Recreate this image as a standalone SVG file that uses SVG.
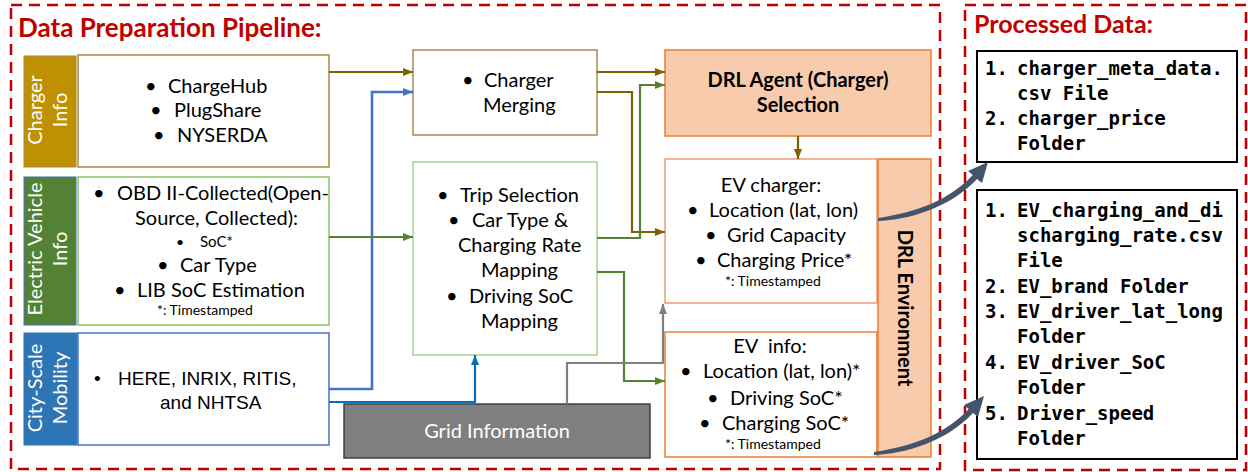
<svg xmlns="http://www.w3.org/2000/svg" width="1248" height="472" viewBox="0 0 1248 472">
<style>
.t{font-family:Lato,"Liberation Sans",sans-serif;font-size:20px;fill:#000}
.a{font-family:"Liberation Sans",Arial,sans-serif;font-size:19px;fill:#000}
.s{font-size:14px}
.w{fill:#fff}
.b{font-weight:bold}
.m{font-family:"DejaVu Sans Mono","Liberation Mono",monospace;font-size:19px;font-weight:bold;fill:#000}
.ttl{font-family:Lato,"Liberation Sans",sans-serif;font-size:26px;font-weight:bold;fill:#C00000}
.dash{fill:none;stroke:#C00000;stroke-width:2.5;stroke-dasharray:11 7}
.c{fill:none;stroke-width:2.2}
.br{stroke:#7F6000}
.gr{stroke:#548235}
.bl{stroke:#4472C4;stroke-width:2.6}
.bl2{stroke:#0070C0}
.gy{stroke:#808080}
.org{fill:#F8CBAD;stroke:#ED7D31;stroke-width:1.5}
</style>
<defs>
<marker id="mBr" viewBox="0 0 10 8" refX="10" refY="4" markerWidth="10" markerHeight="8" markerUnits="userSpaceOnUse" orient="auto"><path d="M0,0 L10,4 L0,8 z" fill="#7F6000"/></marker>
<marker id="mGr" viewBox="0 0 10 8" refX="10" refY="4" markerWidth="10" markerHeight="8" markerUnits="userSpaceOnUse" orient="auto"><path d="M0,0 L10,4 L0,8 z" fill="#548235"/></marker>
<marker id="mBl" viewBox="0 0 10 8" refX="10" refY="4" markerWidth="10" markerHeight="8" markerUnits="userSpaceOnUse" orient="auto"><path d="M0,0 L10,4 L0,8 z" fill="#4472C4"/></marker>
<marker id="mBl2" viewBox="0 0 10 8" refX="10" refY="4" markerWidth="10" markerHeight="8" markerUnits="userSpaceOnUse" orient="auto"><path d="M0,0 L10,4 L0,8 z" fill="#0070C0"/></marker>
<marker id="mGy" viewBox="0 0 10 8" refX="10" refY="4" markerWidth="10" markerHeight="8" markerUnits="userSpaceOnUse" orient="auto"><path d="M0,0 L10,4 L0,8 z" fill="#808080"/></marker>
<path id="curvArrow" d="M878,218 C905,214 945,205 972.7,175 L968,171 L988,162 L982,183 L977,179 C950,208 908,220 878,221 Z" fill="#44546A"/>
</defs>
<rect width="1248" height="472" fill="#fff"/>

<g id="frames">
<rect class="dash" x="11" y="5" width="929" height="464"/>
<rect class="dash" x="965" y="5" width="281" height="465"/>
<text class="ttl" x="18" y="37">Data Preparation Pipeline:</text>
<text class="ttl" x="974" y="33" style="font-size:25px">Processed Data:</text>
</g>

<g id="charger-info">
<rect x="24" y="56" width="52" height="111" fill="#BF9000" stroke="#A88A3F" stroke-width="1"/>
<g transform="translate(50,110) rotate(-90)"><text class="t w" text-anchor="middle" y="-8">Charger</text><text class="t w" text-anchor="middle" y="17">Info</text></g>
<rect x="78" y="55" width="251" height="112" fill="#fff" stroke="#A88A3F" stroke-width="1.5"/>
<text class="t"><tspan x="145" y="93">•</tspan><tspan x="168" y="93">ChargeHub</tspan></text>
<text class="t"><tspan x="150" y="117">•</tspan><tspan x="174" y="117">PlugShare</tspan></text>
<text class="t"><tspan x="153" y="142">•</tspan><tspan x="177" y="142">NYSERDA</tspan></text>
</g>

<g id="ev-info-source">
<rect x="24" y="177" width="52" height="148" fill="#548235" stroke="#4472C4" stroke-width="1"/>
<g transform="translate(50,249) rotate(-90)"><text class="t w" text-anchor="middle" y="-8">Electric Vehicle</text><text class="t w" text-anchor="middle" y="17">Info</text></g>
<rect x="78" y="177" width="251" height="148" fill="#fff" stroke="#8FC46A" stroke-width="1.5"/>
<text class="t"><tspan x="93" y="200">•</tspan><tspan x="117" y="200">OBD II-Collected(Open-</tspan></text>
<text class="t" x="135" y="225">Source, Collected):</text>
<text class="t"><tspan x="176" y="247" class="s">•</tspan><tspan x="200" y="247" style="font-size:15px">SoC*</tspan></text>
<text class="t"><tspan x="157" y="272">•</tspan><tspan x="180" y="272">Car Type</tspan></text>
<text class="t"><tspan x="114" y="297">•</tspan><tspan x="137" y="297">LIB SoC Estimation</tspan></text>
<text class="t s" x="157" y="315">*: Timestamped</text>
</g>

<g id="city-mobility">
<rect x="24" y="333" width="53" height="112" fill="#2E75B6" stroke="#2E75B6" stroke-width="1"/>
<g transform="translate(50,388) rotate(-90)"><text class="t w" text-anchor="middle" y="-8">City-Scale</text><text class="t w" text-anchor="middle" y="17">Mobility</text></g>
<rect x="78" y="333" width="251" height="112" fill="#fff" stroke="#4472C4" stroke-width="1.5"/>
<text class="a"><tspan x="94" y="385">•</tspan><tspan x="118" y="385">HERE, INRIX, RITIS,</tspan></text>
<text class="a" x="160" y="409">and NHTSA</text>
</g>

<g id="charger-merging">
<rect x="413" y="50" width="184" height="85" fill="#fff" stroke="#A88A50" stroke-width="1.5"/>
<text class="t"><tspan x="462" y="87">•</tspan><tspan x="484" y="87">Charger</tspan></text>
<text class="t" x="483" y="112">Merging</text>
</g>

<g id="trip-selection">
<rect x="413" y="162" width="184" height="193" fill="#fff" stroke="#A9D18E" stroke-width="1.5"/>
<text class="t"><tspan x="437" y="202">•</tspan><tspan x="460" y="202">Trip Selection</tspan></text>
<text class="t"><tspan x="448" y="227">•</tspan><tspan x="472" y="227">Car Type &amp;</tspan></text>
<text class="t" x="458" y="252">Charging Rate</text>
<text class="t" x="481" y="277">Mapping</text>
<text class="t"><tspan x="446" y="303">•</tspan><tspan x="469" y="303">Driving SoC</tspan></text>
<text class="t" x="481" y="328">Mapping</text>
</g>

<g id="grid-information">
<rect x="344" y="404" width="306" height="54" fill="#7F7F7F" stroke="#404040" stroke-width="1.5"/>
<text class="t w" x="497" y="438" text-anchor="middle">Grid Information</text>
</g>

<g id="drl-agent">
<rect class="org" x="665" y="50" width="266" height="86"/>
<text class="t b" x="798" y="87" text-anchor="middle">DRL Agent (Charger)</text>
<text class="t b" x="798" y="112" text-anchor="middle">Selection</text>
</g>

<g id="ev-charger">
<rect x="665" y="159" width="212" height="144" fill="#fff" stroke="#EE9A74" stroke-width="1.5"/>
<text class="t" x="771" y="192" text-anchor="middle">EV charger:</text>
<text class="t"><tspan x="687" y="217">•</tspan><tspan x="709" y="217">Location (lat, lon)</tspan></text>
<text class="t"><tspan x="705" y="242">•</tspan><tspan x="727" y="242">Grid Capacity</tspan></text>
<text class="t"><tspan x="695" y="267">•</tspan><tspan x="717" y="267">Charging Price*</tspan></text>
<text class="t s" x="725" y="286">*: Timestamped</text>
</g>

<g id="ev-info">
<rect x="665" y="332" width="212" height="125" fill="#fff" stroke="#ED7D31" stroke-width="1.5"/>
<text class="t" x="770" y="353" text-anchor="middle" xml:space="preserve">EV  info:</text>
<text class="t"><tspan x="680" y="378">•</tspan><tspan x="703" y="378">Location (lat, lon)*</tspan></text>
<text class="t"><tspan x="707" y="405">•</tspan><tspan x="730" y="405">Driving SoC*</tspan></text>
<text class="t"><tspan x="699" y="430">•</tspan><tspan x="722" y="430">Charging SoC*</tspan></text>
<text class="t s" x="725" y="449">*: Timestamped</text>
</g>

<g id="drl-environment">
<rect class="org" x="878" y="159" width="53" height="298"/>
<g transform="translate(904,308) rotate(90)"><text class="t b" text-anchor="middle" y="6">DRL Environment</text></g>
</g>

<g id="processed-charger">
<rect x="977" y="51" width="260" height="111" fill="#fff" stroke="#000" stroke-width="2"/>
<text class="m"><tspan x="985" y="75">1.</tspan><tspan x="1017" y="75">charger_meta_data.</tspan></text>
<text class="m" x="1017" y="100">csv File</text>
<text class="m"><tspan x="985" y="125">2.</tspan><tspan x="1017" y="125">charger_price</tspan></text>
<text class="m" x="1017" y="150">Folder</text>
</g>

<g id="processed-ev">
<rect x="977" y="190" width="260" height="269" fill="#fff" stroke="#000" stroke-width="2"/>
<text class="m"><tspan x="985" y="217">1.</tspan><tspan x="1017" y="217">EV_charging_and_di</tspan></text>
<text class="m" x="1017" y="242">scharging_rate.csv</text>
<text class="m" x="1017" y="267">File</text>
<text class="m"><tspan x="985" y="293">2.</tspan><tspan x="1017" y="293">EV_brand Folder</tspan></text>
<text class="m"><tspan x="985" y="318">3.</tspan><tspan x="1017" y="318">EV_driver_lat_long</tspan></text>
<text class="m" x="1017" y="343">Folder</text>
<text class="m"><tspan x="985" y="369">4.</tspan><tspan x="1017" y="369">EV_driver_SoC</tspan></text>
<text class="m" x="1017" y="394">Folder</text>
<text class="m"><tspan x="985" y="420">5.</tspan><tspan x="1017" y="420">Driver_speed</tspan></text>
<text class="m" x="1017" y="445">Folder</text>
</g>

<g id="connectors">
<path class="c br" d="M329,72 H413" marker-end="url(#mBr)"/>
<path class="c bl" d="M329,389 H372 V92 H413" marker-end="url(#mBl)"/>
<path class="c gr" d="M329,237 H413" marker-end="url(#mGr)"/>
<path class="c bl2" d="M329,402 H475 V355" marker-end="url(#mBl2)"/>
<path class="c br" d="M597,72 H665" marker-end="url(#mBr)"/>
<path class="c br" d="M597,92 H632 V232 H665" marker-end="url(#mBr)"/>
<path class="c gr" d="M597,238 H640 V85 H665" marker-end="url(#mGr)"/>
<path class="c gr" d="M597,272 H624 V381 H665" marker-end="url(#mGr)"/>
<path class="c gy" d="M567,404 V363 H663 V304" marker-end="url(#mGy)"/>
<path class="c br" d="M798,136 V159" marker-end="url(#mBr)"/>
<use href="#curvArrow"/>
<use href="#curvArrow" transform="translate(-4,234)"/>
</g>
</svg>
